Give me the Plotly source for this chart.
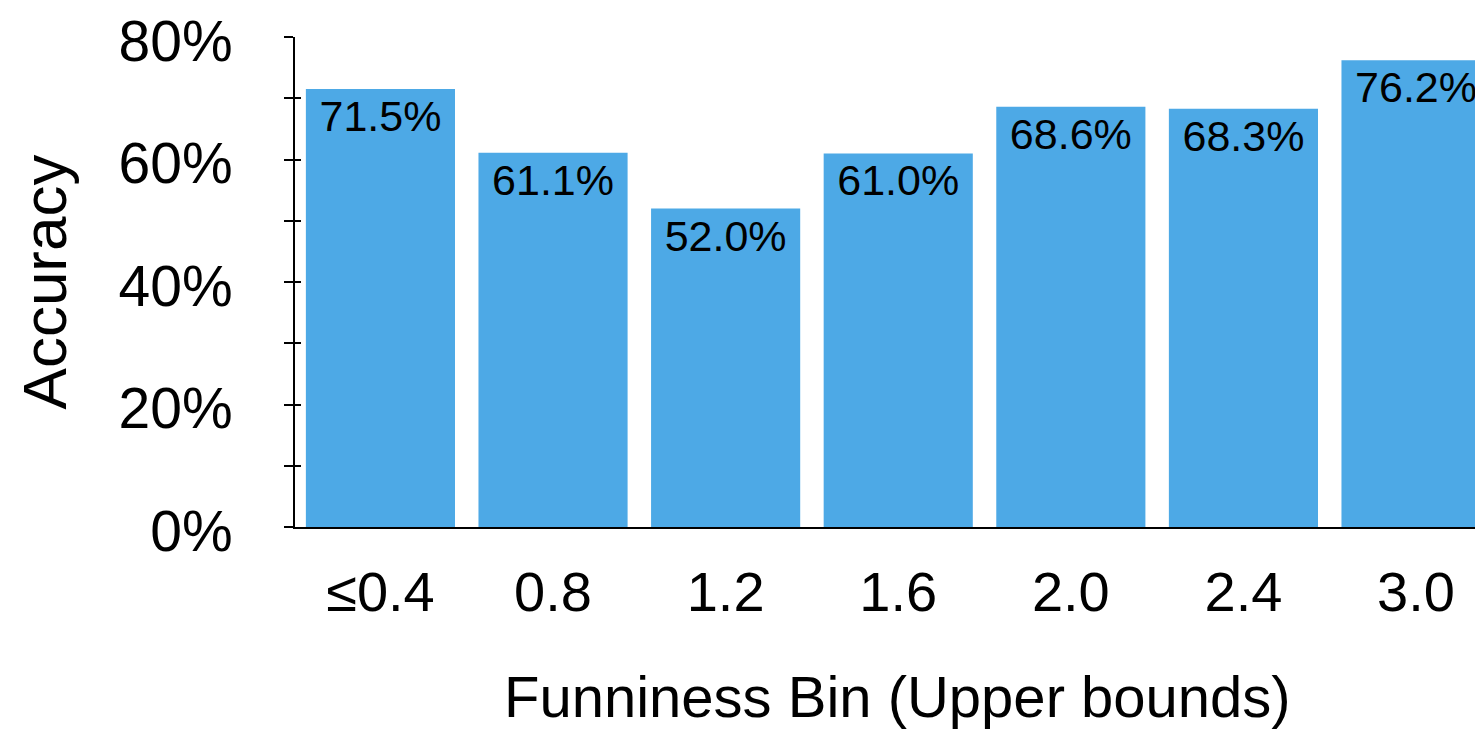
import plotly.graph_objects as go

categories = ["≤0.4", "0.8", "1.2", "1.6", "2.0", "2.4", "3.0"]
accuracy = [71.5, 61.1, 52.0, 61.0, 68.6, 68.3, 76.2]
y_tick_vals = [0, 10, 20, 30, 40, 50, 60, 70, 80]
y_tick_text = ["0%", "", "20%", "", "40%", "", "60%", "", "80%"]
x_title = "Funniness Bin (Upper bounds)"
y_title = "Accuracy"

FONT = "Liberation Sans, Arial, Helvetica, sans-serif"
BAR_COLOR = "#4DA9E6"

fig = go.Figure()
fig.add_trace(go.Bar(
    x=list(range(len(categories))),
    y=accuracy,
    marker=dict(color=BAR_COLOR, line=dict(width=0)),
    texttemplate="%{y:.1f}%",
    textposition="inside",
    insidetextanchor="end",
    textangle=0,
    constraintext="none",
    textfont=dict(family=FONT, size=43, color="black"),
    hoverinfo="skip",
    showlegend=False,
))
# invisible trace to anchor the overlay axis (inside tick marks)
fig.add_trace(go.Scatter(x=[None], y=[None], yaxis="y2", showlegend=False, hoverinfo="skip"))

fig.update_layout(
    width=1475, height=723,
    margin=dict(l=287, r=0, t=29, b=204, autoexpand=False),
    paper_bgcolor="white", plot_bgcolor="white",
    bargap=0.136,
    font=dict(family=FONT, color="black"),
    xaxis=dict(
        range=[-0.495, 6.388],
        tickmode="array",
        tickvals=list(range(len(categories))),
        ticktext=categories,
        ticks="",
        tickfont=dict(size=56, family=FONT, color="black"),
        ticklabelstandoff=15,
        showline=True, linecolor="black", linewidth=2,
        showgrid=False, zeroline=False, automargin=False,
    ),
    yaxis=dict(
        range=[0, 80],
        tickmode="array",
        tickvals=y_tick_vals,
        ticktext=y_tick_text,
        ticks="outside", ticklen=9, tickwidth=2, tickcolor="black",
        tickfont=dict(size=57, family=FONT, color="black"),
        ticklabelstandoff=40,
        ticklabelshift=4,
        ticklabeloverflow="allow",
        showline=True, linecolor="black", linewidth=2,
        showgrid=False, zeroline=False, automargin=False,
        title=dict(text=y_title, font=dict(size=62, family=FONT, color="black"), standoff=32),
    ),
    yaxis2=dict(
        overlaying="y", side="left", anchor="x",
        range=[0, 80],
        tickmode="array",
        tickvals=y_tick_vals,
        ticks="inside", ticklen=6, tickwidth=2, tickcolor="black",
        showticklabels=False, showline=False, showgrid=False, zeroline=False,
        automargin=False,
    ),
    annotations=[dict(
        text=x_title, xref="paper", yref="paper",
        x=0.507, y=-0.345, xanchor="center", yanchor="middle",
        showarrow=False, font=dict(size=58, family=FONT, color="black"),
    )],
)

fig.write_html("out.html")
